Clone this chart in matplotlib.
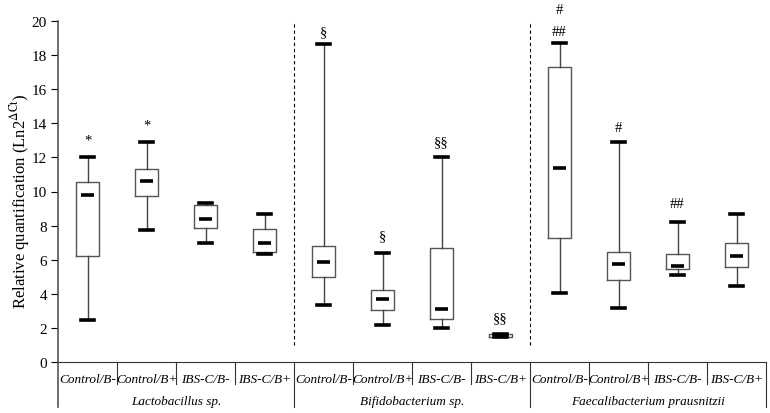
import numpy as np
import matplotlib
matplotlib.use("Agg")
import matplotlib.pyplot as plt
from matplotlib import transforms

plt.rcParams['font.family'] = ['Liberation Serif', 'DejaVu Serif']
plt.rcParams['mathtext.fontset'] = 'stix'

# data (whisker low, q1, median, q3, whisker high)
groups = ["Lactobacillus sp.", "Bifidobacterium sp.", "Faecalibacterium prausnitzii"]
conditions = ["Control/B-", "Control/B+", "IBS-C/B-", "IBS-C/B+"]
whislo = [2.46, 7.76, 6.98, 6.36, 3.34, 2.19, 2.00, 1.45, 4.03, 3.15, 5.13, 4.44]
q1 = [6.24, 9.74, 7.88, 6.43, 4.99, 3.03, 2.52, 1.48, 7.27, 4.81, 5.44, 5.60]
med = [9.80, 10.64, 8.37, 6.98, 5.85, 3.72, 3.09, 1.55, 11.40, 5.77, 5.61, 6.24]
q3 = [10.56, 11.32, 9.21, 7.80, 6.80, 4.22, 6.71, 1.62, 17.28, 6.47, 6.32, 6.98]
whishi = [12.00, 12.90, 9.35, 8.66, 18.63, 6.42, 12.05, 1.65, 18.73, 12.89, 8.23, 8.66]
marks = ["*", "*", "", "", "§", "§", "§§", "§§", "##", "#", "##", ""]
mark_y = [13.0, 13.9, 0, 0, 19.4, 7.4, 12.9, 2.6, 19.4, 13.75, 9.3, 0]
extra_marks = [(8, "#", 20.7)]

fig = plt.figure(figsize=(7.7, 4.14), dpi=100)
ax = fig.add_axes([58 / 770, 51 / 414, 708 / 770, 341 / 414])

n = len(med)
pos = np.arange(n)
stats = [dict(whislo=whislo[i], q1=q1[i], med=med[i], q3=q3[i], whishi=whishi[i])
         for i in range(n)]
ax.bxp(stats, positions=pos, widths=0.39, capwidths=0.21, showfliers=False,
       boxprops=dict(color='#555555', linewidth=1.0),
       whiskerprops=dict(color='#444444', linewidth=1.0),
       capprops=dict(color='black', linewidth=2.6),
       medianprops=dict(linewidth=0))
ax.hlines(med, pos - 0.105, pos + 0.105, color='black', linewidth=2.6, zorder=5)

for i in range(n):
    if marks[i]:
        ax.text(pos[i], mark_y[i], marks[i], ha='center', va='center', fontsize=10.5)
for i, m, y in extra_marks:
    ax.text(pos[i], y, m, ha='center', va='center', fontsize=10.5, clip_on=False)

# dashed separators between bacteria
for x in [3.5, 7.5]:
    ax.plot([x, x], [1, 20], color='black', linewidth=0.8, linestyle=(0, (3, 2.5)))

ax.set_xlim(-0.5, n - 0.5)
ax.set_ylim(0, 20)
ax.set_yticks(np.arange(0, 21, 2))
ax.tick_params(axis='y', direction='out', length=5, labelsize=11, pad=3)
ax.set_xticks([])
for s in ['top', 'right', 'left']:
    ax.spines[s].set_visible(False)
ax.spines['bottom'].set_color('#333333')

ax.set_ylabel(r'Relative quantification (Ln2$^{\Delta\mathrm{Ct}}$)', fontsize=12)
ax.yaxis.set_label_coords(-0.037, 0.474)

# label table below the axis
trans = transforms.blended_transform_factory(ax.transData, ax.transAxes)
ax.plot([-0.5, -0.5], [-0.132, 1], color='#555555', linewidth=1.2,
        transform=trans, clip_on=False)
for i in range(n + 1):
    x = i - 0.5
    low = -0.132 if i % 4 == 0 else -0.065
    if i > 0:
        ax.plot([x, x], [0, low], color='#333333', linewidth=0.8,
                transform=trans, clip_on=False)
for i in range(n):
    ax.text(pos[i], -0.05, conditions[i % 4], transform=trans, ha='center',
            va='center', fontsize=9.5, style='italic')
for g, name in enumerate(groups):
    ax.text(4 * g + 1.5, -0.114, name, transform=trans, ha='center',
            va='center', fontsize=9.5, style='italic')

fig.savefig("out.png", dpi=100)
